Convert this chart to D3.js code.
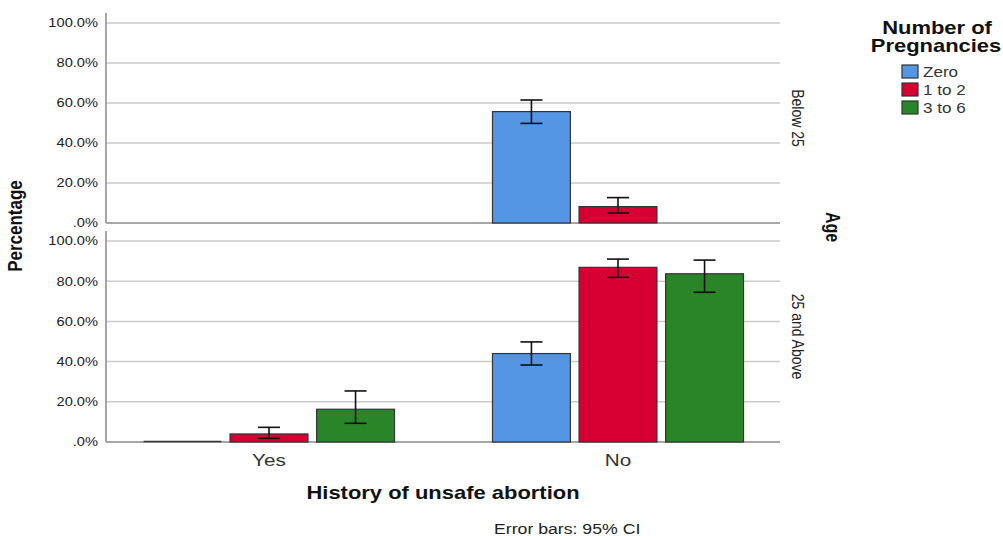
<!DOCTYPE html>
<html>
<head>
<meta charset="utf-8">
<script src="https://cdn.jsdelivr.net/npm/d3@7"></script>
<style>
  body { margin: 0; background: #fff; }
  svg { display: block; font-family: "Liberation Sans", Arial, sans-serif; }
</style>
</head>
<body>
<div class="d3"></div>
<script>
// categories and series
var categories = ["Yes", "No"];
var series = ["Zero", "1 to 2", "3 to 6"];
var panels = ["Below 25", "25 and Above"];
var yTicks = [0, 20, 40, 60, 80, 100];

// percentages per panel, [Yes, No] x [Zero, 1 to 2, 3 to 6]; null = no bar
var below25 = [[null, null, null], [55.7, 8.2, null]];
var below25Lo = [[null, null, null], [49.8, 5.0, null]];
var below25Hi = [[null, null, null], [61.5, 12.7, null]];

var above25 = [[0, 4.0, 16.3], [44.0, 86.9, 83.7]];
var above25Lo = [[null, 1.8, 9.3], [38.3, 81.9, 74.5]];
var above25Hi = [[null, 7.3, 25.4], [49.8, 91.0, 90.5]];

var colors = ["#5596e4", "#d60032", "#2a8428"];

var width = 1003, height = 536;
var left = 106, right = 780;
var sx = 1.22; // the original output is stretched sideways
var panelBox = [{top: 23, bottom: 223, axisTop: 13}, {top: 241, bottom: 442, axisTop: 231}];
var panelData = [
  {vals: below25, lo: below25Lo, hi: below25Hi},
  {vals: above25, lo: above25Lo, hi: above25Hi}
];

var svg = d3.select(".d3").append("svg")
    .attr("width", width)
    .attr("height", height);

// text placed at (x, y), widened by sx, optionally rotated
function label(x, y, txt, size, opts) {
  opts = opts || {};
  var t = svg.append("text")
      .attr("transform", "translate(" + x + "," + y + ") scale(" + sx + ",1)" + (opts.rotate ? " rotate(" + opts.rotate + ")" : ""))
      .attr("text-anchor", opts.anchor || "middle")
      .attr("font-size", size)
      .attr("font-weight", opts.bold ? "bold" : null)
      .attr("fill", opts.fill || "#222")
      .text(txt);
  return t;
}

var x0 = d3.scaleBand()
    .domain(categories)
    .range([94.5, 792.5]);

var x1 = d3.scaleBand()
    .domain(series)
    .range([0, 251])
    .paddingInner(0.1);

panelData.forEach(function(pd, p) {
  var box = panelBox[p];
  var y = d3.scaleLinear().domain([0, 100]).range([box.bottom, box.top]);
  var g = svg.append("g");

  // gridlines
  g.selectAll(".grid")
      .data(yTicks.slice(1))
    .enter().append("line")
      .attr("x1", left).attr("x2", right)
      .attr("y1", function(d) { return y(d); })
      .attr("y2", function(d) { return y(d); })
      .attr("stroke", "#cbcbcb")
      .attr("stroke-width", 1.5);

  // y axis
  var yAxis = d3.axisLeft(y)
      .tickValues(yTicks)
      .tickSize(0)
      .tickFormat(function(d) { return d === 0 ? ".0%" : d.toFixed(1) + "%"; });
  var ax = g.append("g")
      .attr("transform", "translate(" + left + ",0)")
      .call(yAxis);
  ax.select(".domain").remove();
  ax.selectAll("text")
      .attr("x", -8 / sx)
      .attr("transform", "scale(" + sx + ",1)")
      .attr("font-size", 12)
      .attr("fill", "#222")
      .attr("font-family", "Liberation Sans, Arial, sans-serif");

  g.append("line")
      .attr("x1", left).attr("x2", left)
      .attr("y1", box.axisTop).attr("y2", box.bottom)
      .attr("stroke", "#8a8a8a").attr("stroke-width", 1.5);
  g.append("line")
      .attr("x1", left).attr("x2", right)
      .attr("y1", box.bottom).attr("y2", box.bottom)
      .attr("stroke", "#8a8a8a").attr("stroke-width", 1.5);

  // bars
  categories.forEach(function(cat, ci) {
    var gx = x0(cat) + x0.bandwidth() / 2 - 125.5;
    series.forEach(function(s, si) {
      var v = pd.vals[ci][si];
      if (v === null) return;
      var bx = gx + x1(s);
      if (v === 0) {
        g.append("line")
            .attr("x1", bx).attr("x2", bx + x1.bandwidth())
            .attr("y1", y(0) - 0.5).attr("y2", y(0) - 0.5)
            .attr("stroke", "#333").attr("stroke-width", 1.5);
        return;
      }
      g.append("rect")
          .attr("x", bx)
          .attr("y", y(v))
          .attr("width", x1.bandwidth())
          .attr("height", y(0) - y(v))
          .attr("fill", colors[si])
          .attr("stroke", "#333")
          .attr("stroke-width", 1.2);
      var lo = pd.lo[ci][si], hi = pd.hi[ci][si];
      if (lo === null) return;
      var cx = bx + x1.bandwidth() / 2;
      var eb = g.append("g").attr("stroke", "#111").attr("stroke-width", 1.6);
      eb.append("line").attr("x1", cx).attr("x2", cx).attr("y1", y(hi)).attr("y2", y(lo));
      eb.append("line").attr("x1", cx - 11).attr("x2", cx + 11).attr("y1", y(hi)).attr("y2", y(hi));
      eb.append("line").attr("x1", cx - 11).attr("x2", cx + 11).attr("y1", y(lo)).attr("y2", y(lo));
    });
  });

  // panel label
  var mid = (box.top + box.bottom) / 2 - 5;
  label(792, mid, panels[p], 14, {rotate: 90});
});

// category labels
categories.forEach(function(c) {
  label(x0(c) + x0.bandwidth() / 2, 466, c, 17, {fill: "#333"});
});

label(443, 499, "History of unsafe abortion", 18, {bold: true, fill: "#111"});
label(494, 534, "Error bars: 95% CI", 14.5, {anchor: "start"});
label(22, 226, "Percentage", 17, {bold: true, fill: "#111", rotate: -90});
label(826, 227, "Age", 16, {bold: true, fill: "#111", rotate: 90});

// legend
label(937, 34, "Number of", 18, {bold: true, fill: "#111"});
label(936, 52, "Pregnancies", 18, {bold: true, fill: "#111"});

series.forEach(function(s, i) {
  var yy = 65 + i * 18;
  svg.append("rect")
      .attr("x", 902).attr("y", yy)
      .attr("width", 16).attr("height", 13)
      .attr("fill", colors[i])
      .attr("stroke", "#333").attr("stroke-width", 1.2);
  label(923, yy + 12, s, 14, {anchor: "start", fill: "#333"});
});
</script>
</body>
</html>
